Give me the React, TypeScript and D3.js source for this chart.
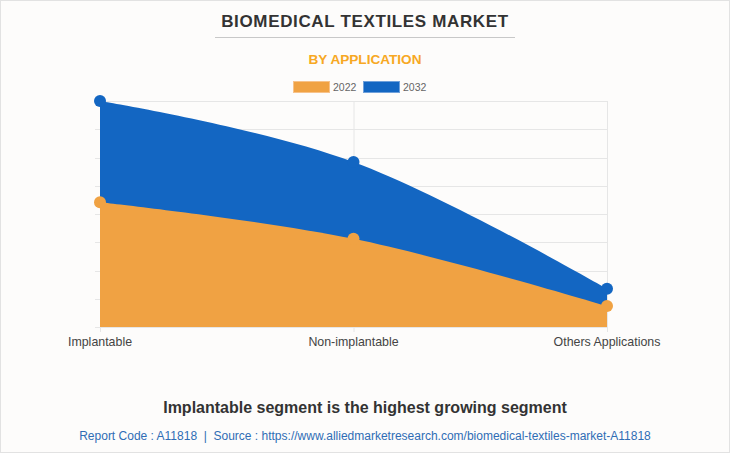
import React from "react";
import * as d3 from "d3";

const categories = ["Implantable", "Non-implantable", "Others Applications"];
const values2022 = [4.42, 3.12, 0.74];
const values2032 = [8.0, 5.84, 1.35];
const seriesNames = ["2022", "2032"];
const gridTicks = [0, 1, 2, 3, 4, 5, 6, 7, 8];

const W = 730;
const H = 453;
const ORANGE = "#F0A243";
const BLUE = "#1366C2";

export default function App() {
  const x = d3.scalePoint<string>().domain(categories).range([100, 607]);
  const y = d3.scaleLinear().domain([0, 8]).range([327, 101]);
  const curve = d3.curveCardinal.tension(-0.1);

  const area = d3
    .area<number>()
    .x((_, i) => x(categories[i]) as number)
    .y0(y(0))
    .y1((d) => y(d))
    .curve(curve);

  return (
    <div style={{ position: "absolute", left: 0, top: 0 }}>
      <svg width={W} height={H} style={{ display: "block", fontFamily: "Arial, 'Liberation Sans', sans-serif" }}>
        <rect x={0.5} y={0.5} width={W - 1} height={H - 1} fill="#FDFCFB" stroke="#E2E2E2" />
        <text x={365} y={27} textAnchor="middle" fontSize={17} fontWeight="bold" fill="#333" letterSpacing={0.65}>
          BIOMEDICAL TEXTILES MARKET
        </text>
        <line x1={215} x2={515} y1={37.5} y2={37.5} stroke="#C8C8C8" />
        <text x={365} y={64} textAnchor="middle" fontSize={13.6} fontWeight="bold" fill="#F7A823">
          BY APPLICATION
        </text>
        {/* legend */}
        <rect x={293.5} y={81.5} width={36} height={11} fill={ORANGE} stroke="#F7C28A" />
        <text x={333} y={91} fontSize={10.5} fill="#666">{seriesNames[0]}</text>
        <rect x={363.5} y={81.5} width={36} height={11} fill={BLUE} stroke="#6FA0DA" />
        <text x={403} y={91} fontSize={10.5} fill="#666">{seriesNames[1]}</text>

        {/* grid */}
        {gridTicks.map((t) => (
          <g key={t}>
            <line x1={95} x2={607} y1={Math.round(y(t)) + 0.5} y2={Math.round(y(t)) + 0.5} stroke="#E6E6E6" />
          </g>
        ))}
        {categories.map((c) => (
          <line key={c} x1={(x(c) as number) + 0.5} x2={(x(c) as number) + 0.5} y1={101} y2={332} stroke="#E6E6E6" />
        ))}

        <path d={area(values2032) || ""} fill={BLUE} />
        <path d={area(values2022) || ""} fill={ORANGE} />

        {values2032.map((v, i) => (
          <circle key={"b" + i} cx={x(categories[i])} cy={y(v)} r={6} fill={BLUE} />
        ))}
        {values2022.map((v, i) => (
          <circle key={"o" + i} cx={x(categories[i])} cy={y(v)} r={6} fill={ORANGE} />
        ))}

        {categories.map((c) => (
          <text key={c} x={x(c)} y={346} textAnchor="middle" fontSize={12.4} fill="#444">
            {c}
          </text>
        ))}

        <text x={365} y={413} textAnchor="middle" fontSize={16} fontWeight="bold" fill="#333">
          Implantable segment is the highest growing segment
        </text>
        <text x={365} y={440} textAnchor="middle" fontSize={12} fill="#2F6DB5">
          {"Report Code : A11818\u00A0\u00A0|\u00A0\u00A0Source : https://www.alliedmarketresearch.com/biomedical-textiles-market-A11818"}
        </text>
      </svg>
    </div>
  );
}
